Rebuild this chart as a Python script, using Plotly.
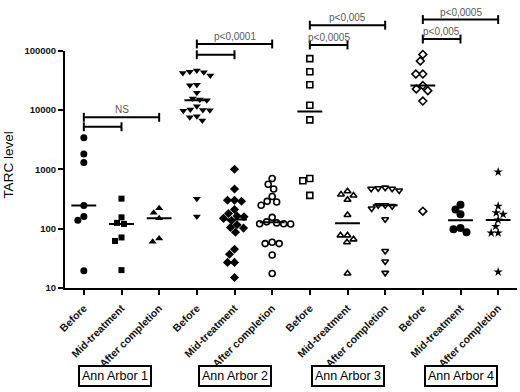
import math
import numpy as np
import plotly.graph_objects as go

# ---------------- data ----------------
categories = ["Before", "Mid-treatment", "After completion"] * 4
groups = ["Ann Arbor 1", "Ann Arbor 2", "Ann Arbor 3", "Ann Arbor 4"]

aa1_before = [3400, 1800, 1300, 245, 160, 138, 19.5]
aa1_mid = [320, 155, 120, 125, 71, 62, 20]
aa1_after = [185, 220, 150, 60, 68]
aa2_before = [46000, 44000, 43000, 42000, 38000, 26500, 26000, 19400, 15500, 15000,
              14500, 11500, 10200, 10000, 9900, 9700, 7800, 7500, 6600, 320, 160]
aa2_mid = [1000, 465, 300, 300, 290, 210, 180, 163, 159, 149, 137, 116, 105, 102,
           87, 45, 37, 27, 27, 15]
aa2_after = [700, 560, 465, 348, 288, 281, 248, 155, 130, 125, 121, 121, 120,
             59, 56, 56, 36, 17.5]
aa3_before = [73000, 44000, 26500, 12000, 6800, 700, 640, 363]
aa3_mid = [426, 376, 362, 306, 170, 77, 77, 66, 59, 17.5]
aa3_after = [490, 480, 470, 470, 440, 248, 248, 239, 218, 144, 42, 28, 18]
aa4_before = [86000, 66700, 40300, 40300, 25800, 22500, 21100, 14100, 197]
aa4_mid = [253, 210, 174, 102, 98, 87]
aa4_after = [899, 239, 185, 174, 140, 109, 84.5, 84.5, 18.6]

series = [aa1_before, aa1_mid, aa1_after, aa2_before, aa2_mid, aa2_after,
          aa3_before, aa3_mid, aa3_after, aa4_before, aa4_mid, aa4_after]

# significance brackets: from column, to column, level (TARC), label
bracket_from = [0, 0, 3, 3, 6, 6, 9, 9]
bracket_to = [1, 2, 4, 5, 7, 8, 10, 11]
bracket_level = [5200, 7500, 85000, 129000, 124000, 268000, 156000, 333000]
bracket_label = ["", "NS", "", "p<0,0001", "p<0,0005", "p<0,005", "p<0,005", "p<0,0005"]

y_tick_vals = [10, 100, 1000, 10000, 100000]
y_tick_text = ["10", "100", "1000", "10000", "100000"]

# ---------------- styles ----------------
FONT = "Liberation Sans, Arial, sans-serif"
BLACK = "#000000"
styles = [
    dict(symbol="circle", size=7, color=BLACK, line=dict(width=0)),
    dict(symbol="square", size=6, color=BLACK, line=dict(width=0)),
    dict(symbol="triangle-up", size=7, color=BLACK, line=dict(width=0)),
    dict(symbol="triangle-down", size=7, color=BLACK, line=dict(width=0)),
    dict(symbol="diamond", size=7, color=BLACK, line=dict(width=0)),
    dict(symbol="circle", size=6, color="white", line=dict(width=1.6, color=BLACK)),
    dict(symbol="square", size=6, color="white", line=dict(width=1.6, color=BLACK)),
    dict(symbol="triangle-up", size=6, color="white", line=dict(width=1.6, color=BLACK)),
    dict(symbol="triangle-down", size=6, color="white", line=dict(width=1.6, color=BLACK)),
    dict(symbol="diamond", size=6, color="white", line=dict(width=1.6, color=BLACK)),
    dict(symbol="circle", size=8, color=BLACK, line=dict(width=0)),
    dict(symbol="star", size=7, color=BLACK, line=dict(width=0)),
]

PX_PER_DEC = 60.6   # vertical px per decade
PX_PER_CAT = 37.67  # horizontal px per category
MIN_DIST = 7.0      # min centre distance between markers (px)


def swarm_offsets(vals):
    ys = np.log10(np.asarray(vals, dtype=float)) * PX_PER_DEC
    order = np.argsort(-ys)
    placed = []
    offs = np.zeros(len(vals))
    cands = [0.0]
    for k in range(1, 40):
        cands += [-0.5 * k, 0.5 * k]
    for i in order:
        chosen = cands[-1]
        for c in cands:
            if all((c - px) ** 2 + (ys[i] - py) ** 2 >= MIN_DIST ** 2 for px, py in placed):
                chosen = c
                break
        placed.append((chosen, ys[i]))
        offs[i] = chosen / PX_PER_CAT
    return offs


fig = go.Figure()

for i, vals in enumerate(series):
    offs = swarm_offsets(vals)
    fig.add_trace(go.Scatter(
        x=i + offs, y=vals, mode="markers", marker=styles[i], yaxis="y",
        showlegend=False, hoverinfo="y", cliponaxis=False))

# median lines
mx, my = [], []
for i, vals in enumerate(series):
    m = float(np.median(vals))
    mx += [i - 0.33, i + 0.33, None]
    my += [m, m, None]
fig.add_trace(go.Scatter(x=mx, y=my, mode="lines", line=dict(color=BLACK, width=2),
                         yaxis="y", showlegend=False, hoverinfo="skip"))

# brackets (on the taller overlay axis so they may sit above 100000)
bx, by = [], []
TICK = 0.075  # decades half-height of end ticks
for f, t, lv in zip(bracket_from, bracket_to, bracket_level):
    up, dn = lv * 10 ** TICK, lv / 10 ** TICK
    bx += [f, t, None, f, f, None, t, t, None]
    by += [lv, lv, None, dn, up, None, dn, up, None]
fig.add_trace(go.Scatter(x=bx, y=by, mode="lines", line=dict(color=BLACK, width=2),
                         yaxis="y2", showlegend=False, hoverinfo="skip"))

annotations = []
for f, t, lv, lab in zip(bracket_from, bracket_to, bracket_level, bracket_label):
    if lab:
        annotations.append(dict(
            x=(f + t) / 2, y=math.log10(lv), xref="x", yref="y2", text=lab,
            showarrow=False, yanchor="bottom", yshift=0,
            font=dict(family=FONT, size=10, color="#5a5a5a")))

# group boxes
group_x = [0.83, 4, 7, 10]
for gx, g in zip(group_x, groups):
    annotations.append(dict(
        x=gx, y=-0.315, xref="x", yref="paper", text=g, showarrow=False,
        xanchor="center", yanchor="middle",
        font=dict(family=FONT, size=12.5, color=BLACK),
        bordercolor=BLACK, borderwidth=2, borderpad=2, bgcolor="white"))

# y axis title
annotations.append(dict(
    x=-0.125, y=3.07, xref="paper", yref="y2", text="TARC level", showarrow=False,
    textangle=-90, xanchor="center", yanchor="middle",
    font=dict(family=FONT, size=13.5, color=BLACK)))

Y_TOP = 5.7
fig.update_layout(
    width=520, height=392,
    margin=dict(l=65, r=3, t=3, b=104),
    paper_bgcolor="white", plot_bgcolor="rgba(0,0,0,0)",
    annotations=annotations,
    xaxis=dict(
        anchor="y",
        range=[-0.5, 11.5], tickmode="array", tickvals=list(range(12)),
        ticktext=categories, tickangle=-45, showgrid=False, zeroline=False,
        showline=True, linecolor=BLACK, linewidth=2,
        ticks="outside", ticklen=5, tickwidth=2, tickcolor=BLACK,
        ticklabelstandoff=3,
        tickfont=dict(family=FONT, size=10.5, color="#111111", weight="bold")),
    yaxis=dict(
        anchor="x", domain=[0, 4 / (Y_TOP - 1)],
        type="log", range=[1, 5], tickmode="array", tickvals=y_tick_vals,
        ticktext=y_tick_text, showgrid=False, zeroline=False,
        showline=True, linecolor=BLACK, linewidth=2,
        ticks="outside", ticklen=5, tickwidth=2, tickcolor=BLACK,
        tickfont=dict(family=FONT, size=9.5, color="#111111", weight="bold")),
    yaxis2=dict(
        anchor="x", domain=[0, 1], type="log", range=[1, Y_TOP],
        visible=False, showgrid=False, zeroline=False),
)

fig.write_html("out.html", config={"displayModeBar": False},
               post_script="document.body.style.margin='0';")
